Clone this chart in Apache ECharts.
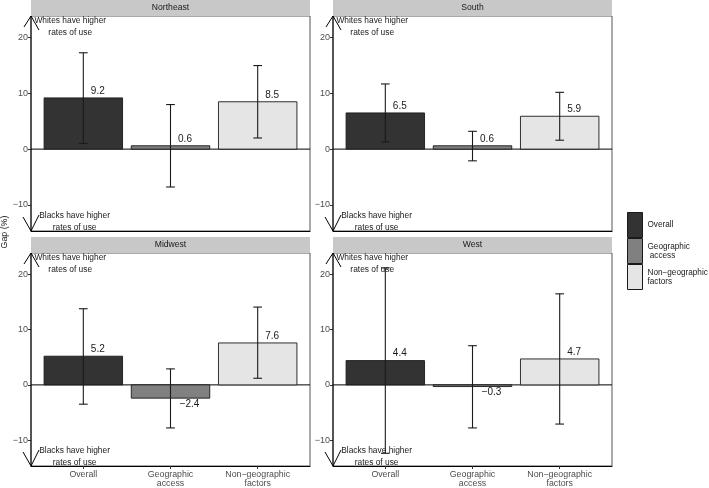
<!DOCTYPE html>
<html>
<head>
<meta charset="utf-8">
<script src="https://cdn.jsdelivr.net/npm/echarts@6/dist/echarts.min.js"></script>
<style>html,body{margin:0;padding:0;background:#fff}#c{width:709px;height:488px}</style>
</head>
<body>
<div id="c"></div>
<script>
// ---- data ----
var regions = ['Northeast', 'South', 'Midwest', 'West'];
var categories = ['Overall', 'Geographic access', 'Non-geographic factors'];
var axisLabels = ['Overall', 'Geographic\naccess', 'Non\u2212geographic\nfactors'];
var legendLabels = ['Overall', 'Geographic\n access', 'Non\u2212geographic\nfactors'];
var yTicks = [-10, 0, 10, 20];

var gapNortheast = [9.2, 0.6, 8.5];
var lowNortheast = [1.0, -6.8, 2.0];
var highNortheast = [17.3, 8.0, 15.0];

var gapSouth = [6.5, 0.6, 5.9];
var lowSouth = [1.3, -2.1, 1.6];
var highSouth = [11.7, 3.2, 10.2];

var gapMidwest = [5.2, -2.4, 7.6];
var lowMidwest = [-3.5, -7.8, 1.2];
var highMidwest = [13.8, 2.9, 14.1];

var gapWest = [4.4, -0.3, 4.7];
var lowWest = [-12.4, -7.8, -7.1];
var highWest = [21.2, 7.1, 16.5];

var gaps = [gapNortheast, gapSouth, gapMidwest, gapWest];
var lows = [lowNortheast, lowSouth, lowMidwest, lowWest];
var highs = [highNortheast, highSouth, highMidwest, highWest];

// ---- styling / layout ----
var FONT = '"Liberation Sans", Arial, sans-serif';
var fills = ['#333333', '#808080', '#e5e5e5'];
var YMIN = -14.7, YMAX = 23.9, XMIN = 0.4, XMAX = 3.6;
var grids = [
  {left: 31, top: 16, width: 279, height: 215},
  {left: 333, top: 16, width: 279, height: 215},
  {left: 31, top: 253, width: 279, height: 215},
  {left: 333, top: 253, width: 279, height: 215}
];
function fmt(v) { return String(v).replace('-', '\u2212'); }

var xAxes = [], yAxes = [], series = [], graphics = [];
grids.forEach(function (g, p) {
  var bottom = p >= 2;
  g.show = true; g.borderColor = '#555'; g.borderWidth = 1; g.backgroundColor = '#fff';
  xAxes.push({
    gridIndex: p, type: 'value', min: XMIN, max: XMAX,
    axisLine: {show: true, onZero: false, lineStyle: {color: '#000', width: 1}},
    axisTick: {show: bottom, customValues: [1, 2, 3], length: 3, lineStyle: {color: '#333'}},
    axisLabel: {show: bottom, customValues: [1, 2, 3], margin: 4, color: '#4d4d4d', fontSize: 8.8,
      lineHeight: 9, fontFamily: FONT,
      formatter: function (v) { return axisLabels[Math.round(v) - 1]; }},
    splitLine: {show: false}
  });
  yAxes.push({
    gridIndex: p, type: 'value', min: YMIN, max: YMAX,
    axisLine: {show: false},
    axisTick: {show: true, customValues: yTicks, length: 3, lineStyle: {color: '#333'}},
    axisLabel: {show: true, customValues: yTicks, margin: 3, color: '#4d4d4d', fontSize: 9,
      fontFamily: FONT, formatter: fmt},
    splitLine: {show: false}
  });
  // strip
  graphics.push({type: 'rect', left: g.left, top: g.top - 16, shape: {width: g.width, height: 16},
    style: {fill: '#c8c8c8'}, z: 10});
  graphics.push({type: 'text', x: g.left + g.width / 2, y: g.top - 8, z: 11,
    style: {text: regions[p], fill: '#1a1a1a', font: '8.6px ' + FONT, textAlign: 'center', textVerticalAlign: 'middle'}});

  // decorations: zero line, arrowed y axis, annotations
  series.push({
    type: 'custom', xAxisIndex: p, yAxisIndex: p, clip: false, silent: true, z: 3,
    data: [[0]],
    renderItem: function (params, api) {
      var top = api.coord([XMIN, YMAX]), bot = api.coord([XMIN, YMIN]);
      var z0 = api.coord([XMIN, 0]), z1 = api.coord([XMAX, 0]);
      var ls = {stroke: '#000', lineWidth: 1, fill: null};
      var t1 = api.coord([0.85, 22]), t2 = api.coord([0.9, -13]);
      var ts = function (txt, pt) {
        return {type: 'text', x: pt[0], y: pt[1], style: {text: txt, fill: '#1a1a1a',
          font: '8.4px ' + FONT, textAlign: 'center', textVerticalAlign: 'middle', lineHeight: 11.5}};
      };
      return {type: 'group', children: [
        {type: 'line', shape: {x1: z0[0], y1: z0[1], x2: z1[0], y2: z1[1]}, style: ls},
        {type: 'line', shape: {x1: top[0], y1: top[1], x2: bot[0], y2: bot[1]}, style: ls},
        {type: 'polyline', shape: {points: [[top[0] - 7, top[1] + 11], top, [top[0] + 8, top[1] + 14]]}, style: ls},
        {type: 'polyline', shape: {points: [[bot[0] - 8, bot[1] - 14], bot, [bot[0] + 8, bot[1] - 16]]}, style: ls},
        ts('Whites have higher\nrates of use', t1),
        ts('Blacks have higher\nrates of use', t2)
      ]};
    }
  });

  // bars + error bars + labels
  categories.forEach(function (cat, c) {
    series.push({
      type: 'custom', name: cat, xAxisIndex: p, yAxisIndex: p, z: 4,
      itemStyle: {color: fills[c], borderColor: '#1a1a1a', borderWidth: 1},
      data: [[c + 1, gaps[p][c], lows[p][c], highs[p][c]]],
      renderItem: function (params, api) {
        var x = api.value(0), v = api.value(1), lo = api.value(2), hi = api.value(3);
        var a = api.coord([x - 0.45, Math.max(v, 0)]), b = api.coord([x + 0.45, Math.min(v, 0)]);
        var e1 = api.coord([x, lo]), e2 = api.coord([x, hi]);
        var cw = api.coord([x + 0.05, lo])[0] - e1[0];
        var vp = api.coord([x, v]);
        var es = {stroke: '#1a1a1a', lineWidth: 1.1};
        return {type: 'group', children: [
          {type: 'rect', shape: {x: a[0], y: a[1], width: b[0] - a[0], height: Math.max(b[1] - a[1], 0.5)},
            style: {fill: fills[c], stroke: '#1a1a1a', lineWidth: 0.9}},
          {type: 'line', shape: {x1: e1[0], y1: e1[1], x2: e2[0], y2: e2[1]}, style: es},
          {type: 'line', shape: {x1: e1[0] - cw, y1: e1[1], x2: e1[0] + cw, y2: e1[1]}, style: es},
          {type: 'line', shape: {x1: e2[0] - cw, y1: e2[1], x2: e2[0] + cw, y2: e2[1]}, style: es},
          {type: 'text', x: vp[0] + (v >= 0 ? 14.5 : 19), y: vp[1] + (v >= 0 ? -7 : 6),
            style: {text: fmt(v.toFixed(1)), fill: '#1a1a1a', font: '10px ' + FONT,
              textAlign: 'center', textVerticalAlign: 'middle'}}
        ]};
      }
    });
  });
});

graphics.push({type: 'text', x: 4.5, y: 232, rotation: Math.PI / 2,
  style: {text: 'Gap (%)', fill: '#1a1a1a', font: '8.8px ' + FONT, textAlign: 'center', textVerticalAlign: 'middle'}});

var chart = echarts.init(document.getElementById('c'), null, {renderer: 'canvas'});
chart.setOption({
  animation: false,
  backgroundColor: '#fff',
  textStyle: {fontFamily: FONT},
  grid: grids,
  xAxis: xAxes,
  yAxis: yAxes,
  legend: {
    orient: 'vertical', left: 627, top: 212, padding: 0, itemWidth: 15, itemHeight: 25, itemGap: 0,
    icon: 'rect', selectedMode: false,
    itemStyle: {borderColor: '#1a1a1a', borderWidth: 1},
    data: categories,
    formatter: function (name) { return legendLabels[categories.indexOf(name)]; },
    textStyle: {fontSize: 8.2, lineHeight: 9, color: '#1a1a1a', fontFamily: FONT}
  },
  graphic: graphics,
  series: series
});
</script>
</body>
</html>
